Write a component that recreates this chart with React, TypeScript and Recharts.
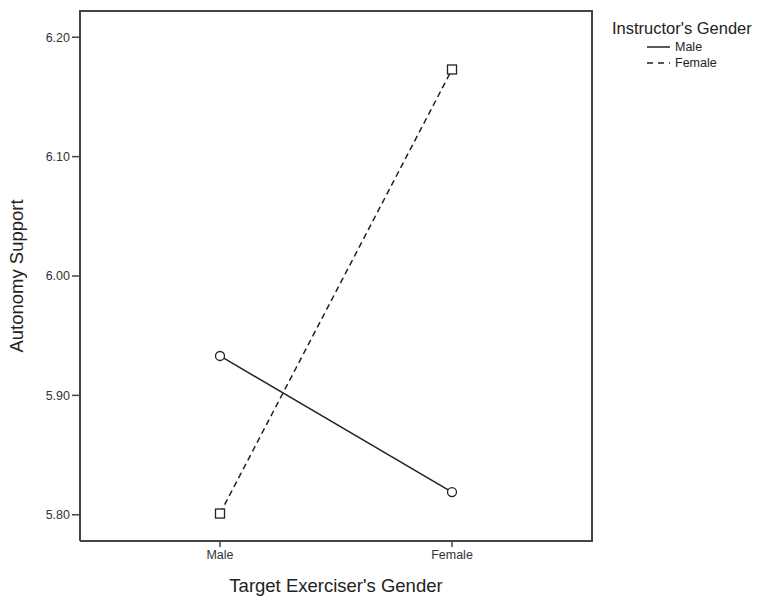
import React from 'react';
import { LineChart, Line, XAxis, YAxis } from 'recharts';

const categories = ['Male', 'Female'];
const maleInstructor = [5.933, 5.819];
const femaleInstructor = [5.801, 6.173];
const yTicks = [5.8, 5.9, 6.0, 6.1, 6.2];
const legendTitle = "Instructor's Gender";
const seriesNames = ['Male', 'Female'];

const data = categories.map((c, i) => ({ cat: c, male: maleInstructor[i], female: femaleInstructor[i] }));

const FONT = '"Liberation Sans", Arial, sans-serif';
const AX = '#444';

const SquareDot = (props: any) => {
  const { cx, cy, key } = props;
  if (cx == null || cy == null) return null;
  return <rect key={key} x={cx - 4.5} y={cy - 4.5} width={9} height={9} fill="#fff" stroke="#222" strokeWidth={1.3} />;
};

const CircleDot = (props: any) => {
  const { cx, cy, key } = props;
  if (cx == null || cy == null) return null;
  return <circle key={key} cx={cx} cy={cy} r={4.5} fill="#fff" stroke="#222" strokeWidth={1.3} />;
};

export default function App() {
  return (
    <div style={{ position: 'absolute', left: 0, top: 0, width: 757, height: 597, background: '#fff' }}>
      <LineChart width={757} height={597} data={data} margin={{ top: 11, right: 165, bottom: 0, left: 0 }}>
        <XAxis
          dataKey="cat"
          height={56}
          padding={{ left: 140, right: 140 }}
          axisLine={{ stroke: AX, strokeWidth: 2 }}
          tickLine={{ stroke: AX, strokeWidth: 1.5 }}
          tickSize={6}
          tick={{ fontSize: 12.5, fill: '#333', fontFamily: FONT }}
          tickMargin={3}
          label={{ value: "Target Exerciser's Gender", position: 'insideBottom', offset: 5, fontSize: 18.5, fill: '#222', fontFamily: FONT }}
        />
        <YAxis
          width={80}
          domain={[5.778, 6.222]}
          ticks={yTicks}
          tickFormatter={(v: number) => v.toFixed(2)}
          axisLine={{ stroke: AX, strokeWidth: 2 }}
          tickLine={{ stroke: AX, strokeWidth: 1.5 }}
          tickSize={8}
          tick={{ fontSize: 12.5, fill: '#333', fontFamily: FONT }}
          tickMargin={2}
          allowDataOverflow
          label={{ value: 'Autonomy Support', angle: -90, position: 'insideLeft', offset: 16, fontSize: 18.5, fill: '#222', fontFamily: FONT, style: { textAnchor: 'middle' } }}
        />
        <Line dataKey="male" name="Male" stroke="#222" strokeWidth={1.5} dot={<CircleDot />} activeDot={false} isAnimationActive={false} />
        <Line dataKey="female" name="Female" stroke="#222" strokeWidth={1.5} strokeDasharray="6 4" dot={<SquareDot />} activeDot={false} isAnimationActive={false} />
      </LineChart>
      <div style={{ position: 'absolute', left: 79, top: 10, width: 512, height: 530, border: `2px solid ${AX}`, borderLeft: 'none', borderBottom: 'none', pointerEvents: 'none', boxSizing: 'content-box' }} />
      <div style={{ position: 'absolute', left: 612, top: 18, fontFamily: FONT, color: '#222' }}>
        <div style={{ fontSize: 16.5, lineHeight: '20px', whiteSpace: 'nowrap' }}>{legendTitle}</div>
        <div style={{ marginLeft: 34, marginTop: 1, fontSize: 12.5, lineHeight: '16px' }}>
          {seriesNames.map((n, i) => (
            <div key={n} style={{ display: 'flex', alignItems: 'center' }}>
              <svg width={25} height={10}><line x1={1} y1={5} x2={24} y2={5} stroke="#222" strokeWidth={1.5} strokeDasharray={i === 1 ? '6 5' : undefined} /></svg>
              <span style={{ marginLeft: 4 }}>{n}</span>
            </div>
          ))}
        </div>
      </div>
    </div>
  );
}
